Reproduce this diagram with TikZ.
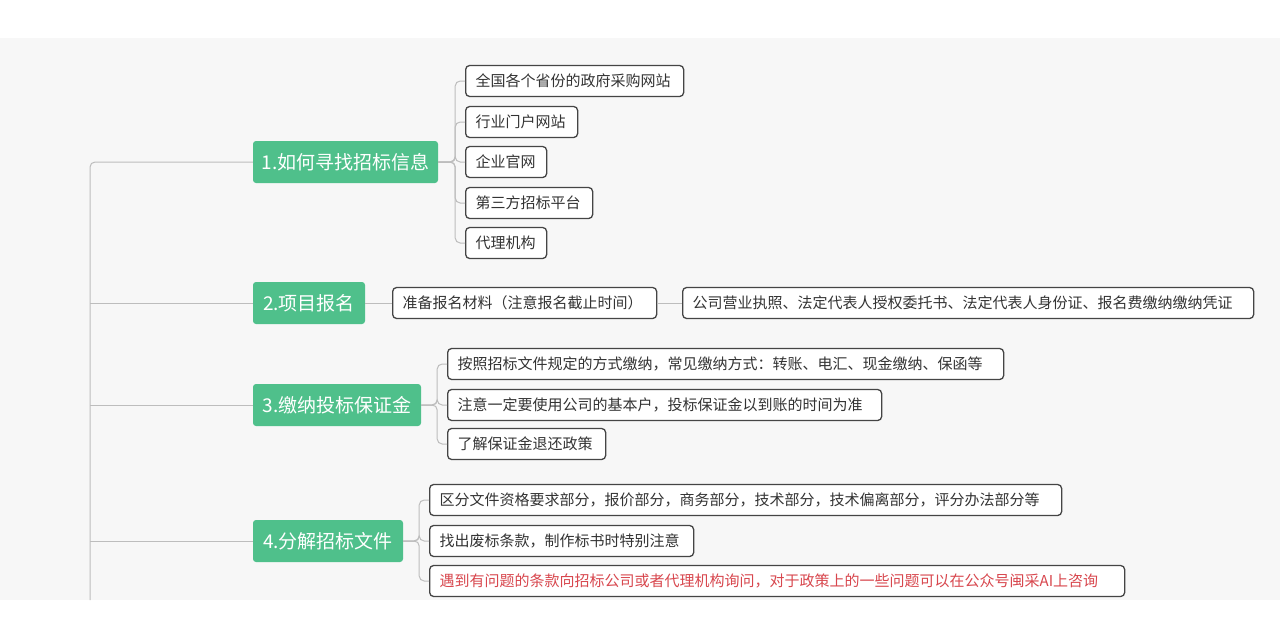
\documentclass[tikz,border=0pt]{standalone}
\usepackage{fontspec}
\setmainfont{Noto Sans CJK SC}
\begin{document}
\begin{tikzpicture}[x=1pt,y=-1pt,
  main/.style={fill=mgreen,text=white,rounded corners=3,font=\fontsize{19}{22}\selectfont,inner sep=0,minimum height=42},
  leaf/.style={draw=leafb,line width=1.3,fill=white,rounded corners=4,font=\fontsize{15}{18}\selectfont,text=txt,inner sep=0,minimum height=31,anchor=west,align=left},
  conn/.style={draw=lineg,line width=1,rounded corners=5}]
\definecolor{mgreen}{HTML}{4FC08B}
\definecolor{leafb}{HTML}{454545}
\definecolor{lineg}{HTML}{BDBDBD}
\definecolor{txt}{HTML}{333333}
\definecolor{bg}{HTML}{F7F7F7}
\definecolor{redt}{HTML}{D8474E}
\fill[white] (0,0) rectangle (1280,640);
\fill[bg] (0,38) rectangle (1280,600);
\useasboundingbox (0,0) rectangle (1280,640);
\newcommand{\lf}[5]{\node[leaf,minimum width=#3,text width=#3-20] (#1) at (#2,#4) {#5};}
% main nodes
\node[main,minimum width=185] (m1) at (345.5,162) {1.如何寻找招标信息};
\node[main,minimum width=112] (m2) at (309,303) {2.项目报名};
\node[main,minimum width=168] (m3) at (337,405) {3.缴纳投标保证金};
\node[main,minimum width=150] (m4) at (328,541) {4.分解招标文件};
\coordinate (tb) at (90,600);
% trunk
\draw[conn] (m1.west) -| (tb);
\foreach \m in {m2,m3,m4} \draw[conn,rounded corners=0] (90,0 |- \m.west) -- (\m.west);
% group 1
\lf{a1}{465}{218}{81}{全国各个省份的政府采购网站}
\lf{a2}{465}{112}{122}{行业门户网站}
\lf{a3}{465}{81}{162}{企业官网}
\lf{a4}{465}{127}{203}{第三方招标平台}
\lf{a5}{465}{81}{243}{代理机构}
\foreach \l in {a1,a2,a3,a4,a5} \draw[conn] (m1.east) -- ++(17,0) |- (\l.west);
% group 2
\lf{b1}{392}{264}{303}{准备报名材料（注意报名截止时间）}
\lf{b2}{682}{571}{303}{公司营业执照、法定代表人授权委托书、法定代表人身份证、报名费缴纳缴纳凭证}
\draw[conn] (m2.east) -- (b1.west);
\draw[conn] (b1.east) -- (b2.west);
% group 3
\lf{c1}{447}{556}{364}{按照招标文件规定的方式缴纳，常见缴纳方式：转账、电汇、现金缴纳、保函等}
\lf{c2}{447}{434}{405}{注意一定要使用公司的基本户，投标保证金以到账的时间为准}
\lf{c3}{447}{158}{444}{了解保证金退还政策}
\foreach \l in {c1,c2,c3} \draw[conn] (m3.east) -- ++(16,0) |- (\l.west);
% group 4
\lf{d1}{429}{632}{500}{区分文件资格要求部分，报价部分，商务部分，技术部分，技术偏离部分，评分办法部分等}
\lf{d2}{429}{264}{541}{找出废标条款，制作标书时特别注意}
\node[leaf,minimum width=695,text width=675,text=redt] (d3) at (429,581) {遇到有问题的条款向招标公司或者代理机构询问，对于政策上的一些问题可以在公众号闽采AI上咨询};
\foreach \l in {d1,d2,d3} \draw[conn] (m4.east) -- ++(16,0) |- (\l.west);
\end{tikzpicture}
\end{document}
